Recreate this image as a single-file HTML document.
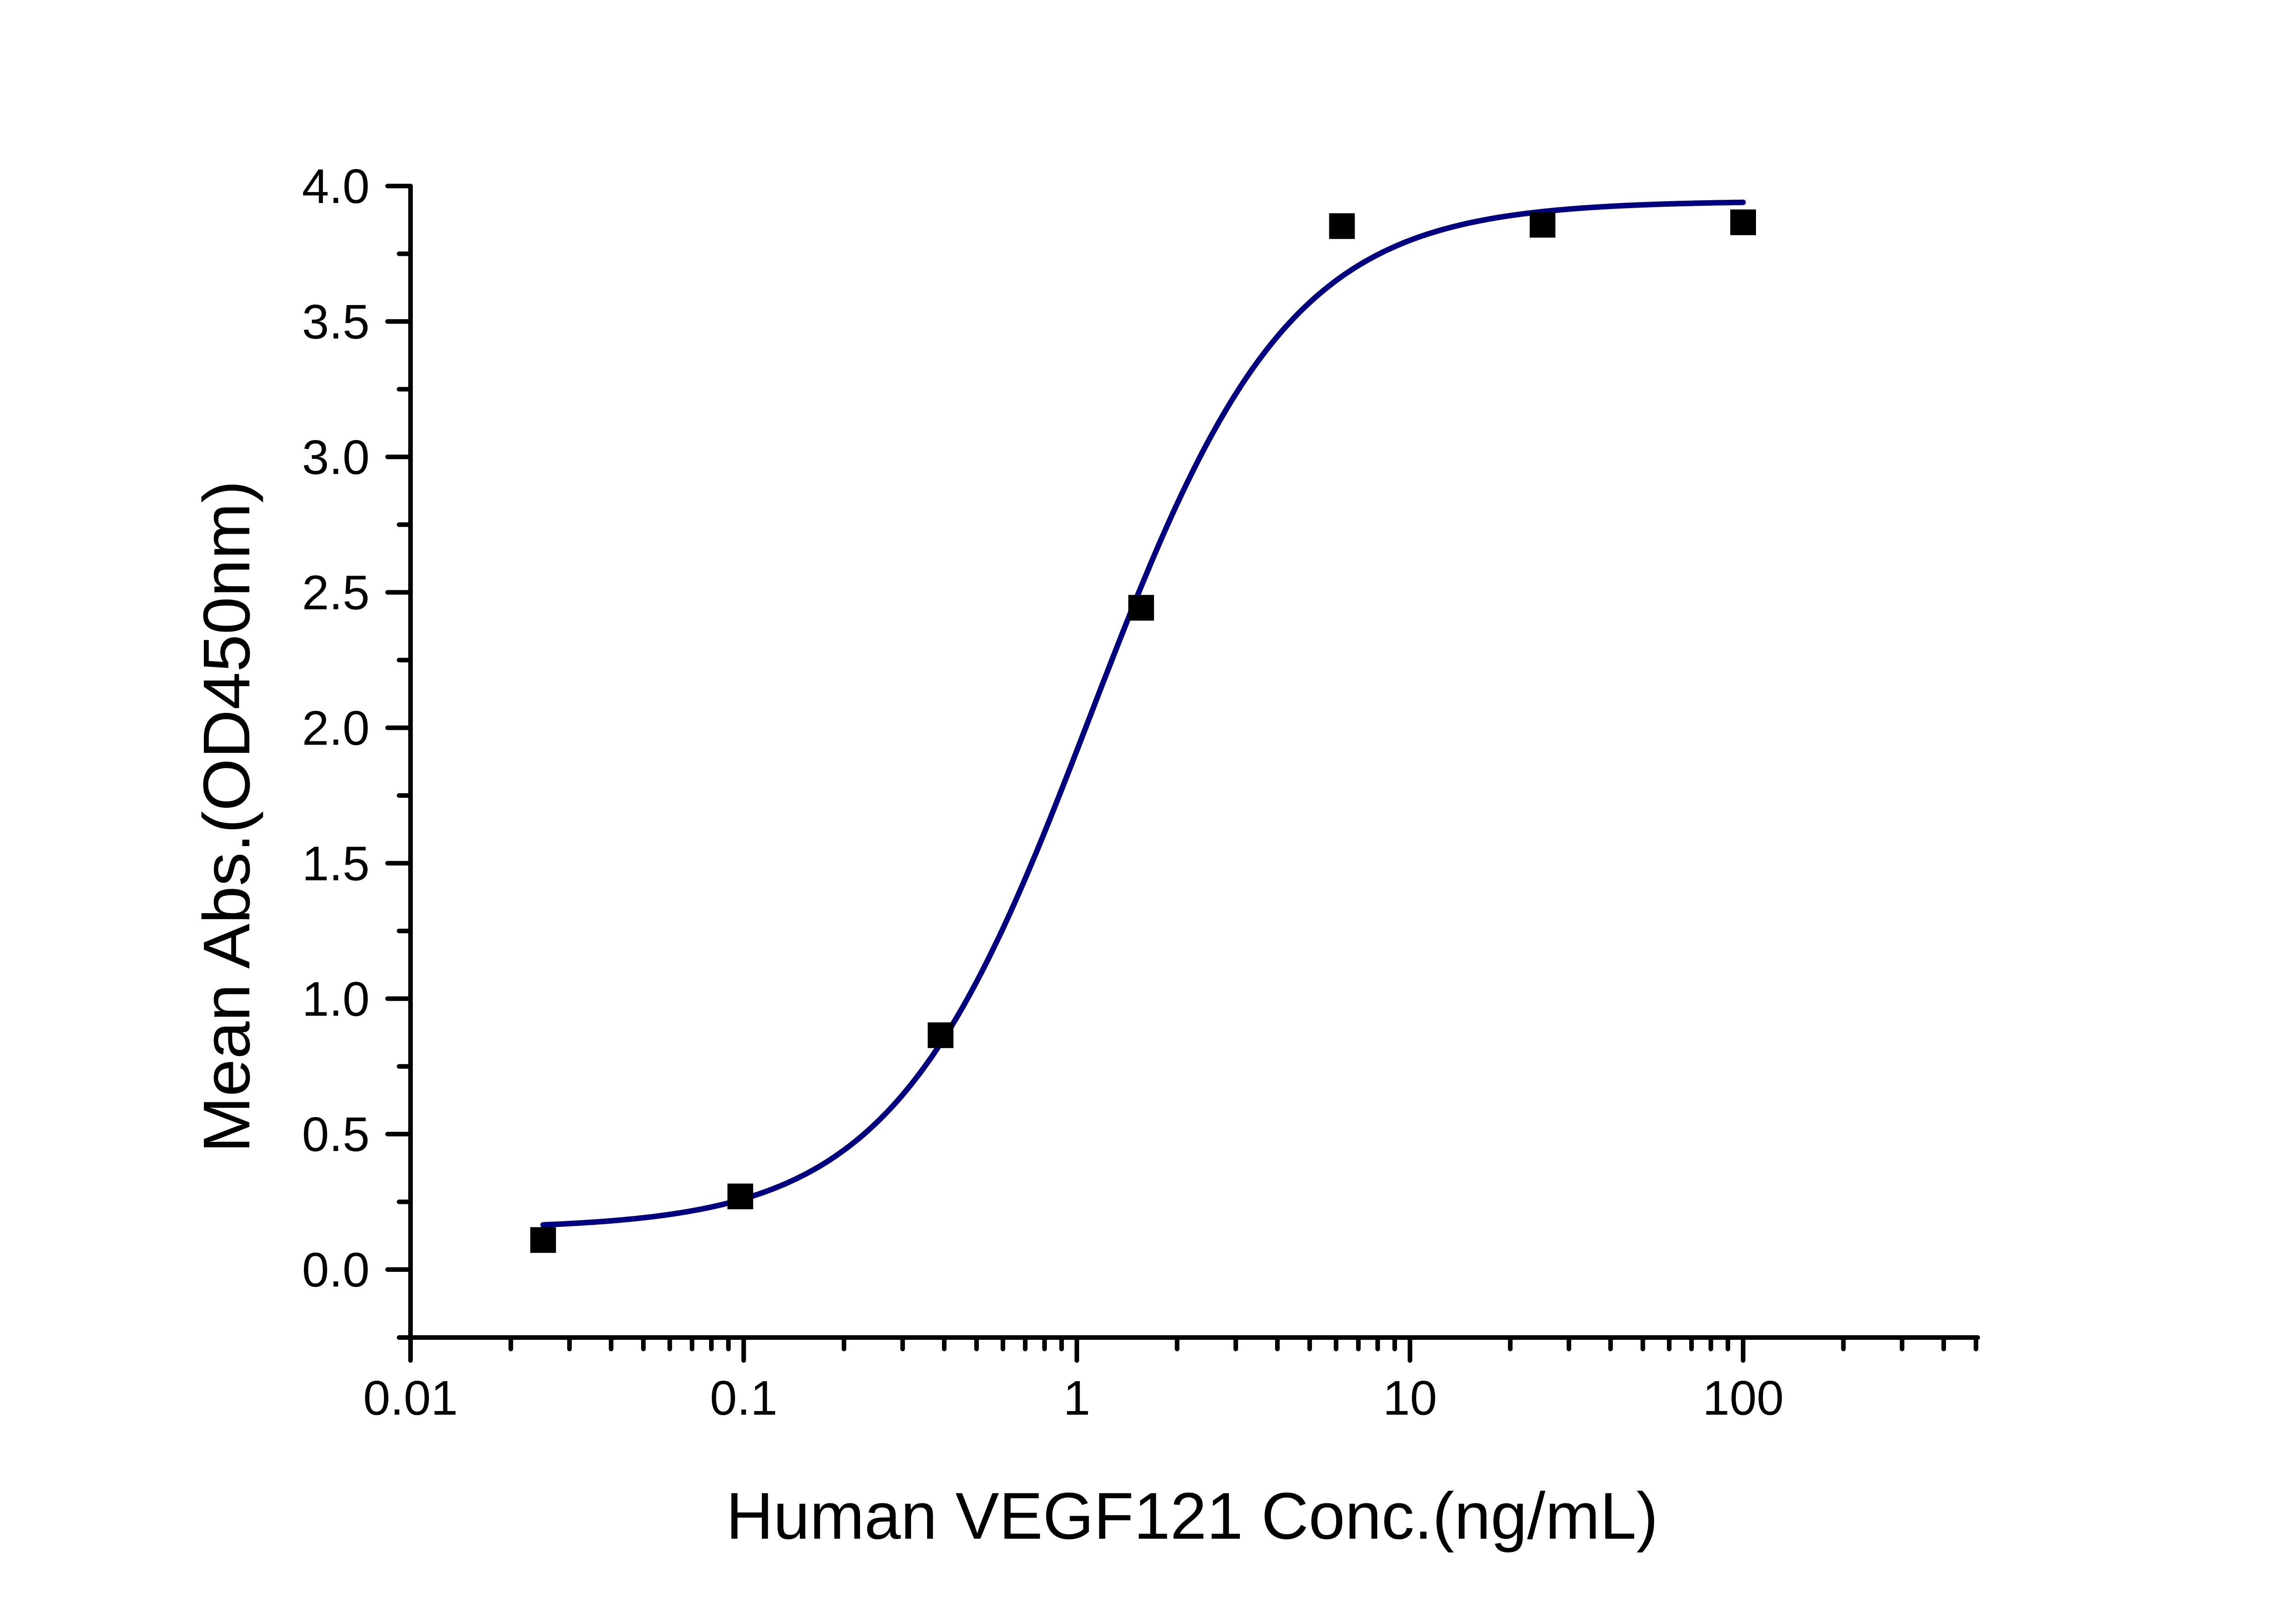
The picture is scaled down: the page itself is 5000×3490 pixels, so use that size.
<!DOCTYPE html>
<html><head><meta charset="utf-8"><style>html,body{margin:0;padding:0;background:#fff}svg{display:block}</style></head>
<body>
<svg id="chart" width="5000" height="3490" viewBox="0 0 5000 3490" xmlns="http://www.w3.org/2000/svg" font-family="'Liberation Sans', sans-serif">
<rect width="5000" height="3490" fill="#fff"/>
<g id="axes"></g>
<g id="curve-layer"></g>
<g id="points-layer"></g>
<text transform="translate(543,1778) rotate(-90)" text-anchor="middle" font-size="144" textLength="1464" lengthAdjust="spacingAndGlyphs">Mean Abs.(OD450nm)</text>
<text x="2596" y="3350" text-anchor="middle" font-size="144" textLength="2030" lengthAdjust="spacingAndGlyphs">Human VEGF121 Conc.(ng/mL)</text>
</svg>
<script>
const concentrations = [0.025, 0.0977, 0.39, 1.56, 6.25, 25, 100];
const absorbances = [0.109, 0.27, 0.865, 2.443, 3.852, 3.857, 3.866];
const xTickValues = [0.01, 0.1, 1, 10, 100];
const xTickLabels = ["0.01", "0.1", "1", "10", "100"];
const yTickValues = [0, 0.5, 1, 1.5, 2, 2.5, 3, 3.5, 4];
const yTickLabels = ["0.0", "0.5", "1.0", "1.5", "2.0", "2.5", "3.0", "3.5", "4.0"];
const fitBottom = [0.15];
const fitTop = [3.945];
const fitEC50 = [1.1];
const fitHill = [1.46];
const fitRange = [0.025, 100];

const NS = "http://www.w3.org/2000/svg";
const X0 = 894, PX_DEC = 725.5, XMAX = 4307;
const Y0 = 2764, PX_UNIT = 589.75, YBOT = 2912, YTOP = 405;
function sx(v){ return X0 + (Math.log10(v) + 2) * PX_DEC; }
function sy(v){ return Y0 - v * PX_UNIT; }
function mk(tag, attrs, parent){
  const e = document.createElementNS(NS, tag);
  for (const k in attrs) e.setAttribute(k, attrs[k]);
  parent.appendChild(e); return e;
}
const axes = document.getElementById('axes');
const st = {stroke:'#000','stroke-width':10,'stroke-linecap':'round'};
let yl = mk('line', Object.assign({x1:X0,y1:YTOP,x2:X0,y2:YBOT}, st), axes);


let xl = mk('line', Object.assign({x1:X0,y1:YBOT,x2:XMAX,y2:YBOT}, st), axes);


for (let i = 0; i < yTickValues.length; i++){
  const y = sy(yTickValues[i]);
  const t = mk('line', Object.assign({x1:X0-50,y1:y,x2:X0,y2:y}, st), axes);
  
  
  const lb = mk('text', {x:805, y:y+37, 'text-anchor':'end', 'font-size':106}, axes);
  lb.textContent = yTickLabels[i];
  
  
  if (i < yTickValues.length - 1){
    const ym = sy((yTickValues[i] + yTickValues[i+1]) / 2);
    const m = mk('line', Object.assign({x1:X0-25,y1:ym,x2:X0,y2:ym}, st), axes);
    
    
  }
}
const yb = mk('line', Object.assign({x1:X0-25,y1:YBOT,x2:X0,y2:YBOT}, st), axes);


for (let i = 0; i < xTickValues.length; i++){
  const x = sx(xTickValues[i]);
  const t = mk('line', Object.assign({x1:x,y1:YBOT,x2:x,y2:YBOT+50}, st), axes);
  
  
  const lb = mk('text', {x:x, y:3080, 'text-anchor':'middle', 'font-size':106}, axes);
  lb.textContent = xTickLabels[i];
  
  
  const last = (i === xTickValues.length - 1) ? 5 : 9;
  for (let k = 2; k <= last; k++){
    const xm = sx(xTickValues[i] * k);
    const m = mk('line', Object.assign({x1:xm,y1:YBOT,x2:xm,y2:YBOT+25}, st), axes);
    
    
  }
}
function fit(x){ return fitBottom[0] + (fitTop[0] - fitBottom[0]) / (1 + Math.pow(fitEC50[0] / x, fitHill[0])); }
let d = '';
const l0 = Math.log10(fitRange[0]), l1 = Math.log10(fitRange[1]);
for (let i = 0; i <= 300; i++){
  const xv = Math.pow(10, l0 + (l1 - l0) * i / 300);
  d += (i ? 'L' : 'M') + sx(xv).toFixed(1) + ',' + sy(fit(xv)).toFixed(1);
}
const path = mk('path', {d:d, fill:'none', stroke:'#000080', 'stroke-width':12, 'stroke-linecap':'round'}, document.getElementById('curve-layer'));


const pl = document.getElementById('points-layer');
for (let i = 0; i < concentrations.length; i++){
  const r = mk('rect', {x:sx(concentrations[i]) - 28, y:sy(absorbances[i]) - 28, width:56, height:56, fill:'#000'}, pl);
  
  
}
</script>
</body></html>
